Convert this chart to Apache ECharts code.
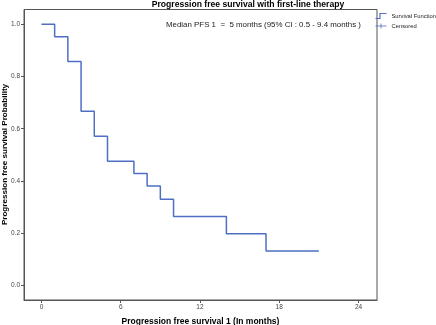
<!DOCTYPE html>
<html><head><meta charset="utf-8">
<script src="https://cdn.jsdelivr.net/npm/echarts@6/dist/echarts.min.js"></script>
<style>html,body{margin:0;padding:0;background:#fff}#c{width:436px;height:325px}</style>
</head><body><div id="c"></div>
<script>
const months = [0, 1, 2, 3, 4, 5, 7, 8, 9, 10, 14, 17, 21];
const survival = [1.0, 0.952, 0.857, 0.667, 0.571, 0.476, 0.429, 0.381, 0.330, 0.264, 0.198, 0.132, 0.132];
const censoredMonths = [21];
const censoredValues = [0.132];
const xTicks = [0, 6, 12, 18, 24];
const yTicks = [0.0, 0.2, 0.4, 0.6, 0.8, 1.0];
const titleText = 'Progression free survival with first-line therapy';
const noteText = 'Median PFS 1  =  5 months (95% CI : 0.5 - 9.4 months )';
const xName = 'Progression free survival 1 (In months)';
const yName = 'Progression free survival Probability';

const chart = echarts.init(document.getElementById('c'), null, {renderer: 'canvas'});
const FONT = 'Liberation Sans, Arial, sans-serif';
const blue = '#4e6fc4';
chart.setOption({
  animation: false,
  textStyle: {fontFamily: FONT},
  title: [
    {text: titleText, left: 248, textAlign: 'center', top: 0.5, padding: 0,
     textStyle: {fontSize: 8.6, fontWeight: 'bold', color: '#000', fontFamily: FONT}},
    {text: noteText, left: 166, top: 21, padding: 0,
     textStyle: {fontSize: 7.9, fontWeight: 'normal', color: '#222', fontFamily: FONT}}
  ],
  legend: {
    orient: 'vertical', left: 373, top: 11, itemGap: 0, padding: 0,
    itemWidth: 11, itemHeight: 5.5,
    textStyle: {fontSize: 5.8, lineHeight: 6.4, color: '#222', fontFamily: FONT, width: 60, overflow: 'none'},
    data: [
      {name: 'Survival Function', icon: 'path://M0,10 L9,10 L9,0 L22,0', itemStyle: {color: 'none', borderColor: blue, borderWidth: 1.2}},
      {name: 'Censored', icon: 'path://M0,5 L22,5 M11,0 L11,10', itemStyle: {color: 'none', borderColor: blue, borderWidth: 1}}
    ]
  },
  grid: {left: 24, right: 59, top: 9.5, bottom: 25, show: true, borderColor: '#555', borderWidth: 1, containLabel: false, outerBoundsMode: 'none'},
  xAxis: {
    type: 'value', min: -1.32, max: 25.4,
    name: xName, nameLocation: 'middle', nameGap: 17,
    nameTextStyle: {fontSize: 8.5, fontWeight: 'bold', color: '#000'},
    axisLine: {show: true, onZero: false, lineStyle: {color: '#555', width: 1}},
    axisTick: {show: true, length: 3, customValues: xTicks, lineStyle: {color: '#555'}},
    axisLabel: {customValues: xTicks, fontSize: 6.5, color: '#444', margin: 4, formatter: v => String(v)},
    splitLine: {show: false}
  },
  yAxis: {
    type: 'value', min: -0.055, max: 1.056,
    axisLine: {show: true, onZero: false, lineStyle: {color: '#555', width: 1}},
    axisTick: {show: true, length: 3, customValues: yTicks, lineStyle: {color: '#555'}},
    axisLabel: {customValues: yTicks, fontSize: 6.5, color: '#444', margin: 4, formatter: v => v.toFixed(1)},
    splitLine: {show: false}
  },
  graphic: [
    {type: 'text', x: 5, y: 154.5, rotation: Math.PI / 2,
     style: {text: yName, font: 'bold 8.1px Liberation Sans, Arial, sans-serif', fill: '#000',
             align: 'center', verticalAlign: 'middle'}}
  ],
  series: [
    {name: 'Survival Function', type: 'line', step: 'end', showSymbol: false,
     data: months.map((m, i) => [m, survival[i]]),
     lineStyle: {color: blue, width: 1.5}, itemStyle: {color: blue}},
    {name: 'Censored', type: 'scatter', symbol: 'path://M5,0 L5,10', symbolSize: [2, 5],
     data: censoredMonths.map((m, i) => [m, censoredValues[i]]),
     itemStyle: {color: 'none', borderColor: blue, borderWidth: 1.5}}
  ]
});
</script></body></html>
